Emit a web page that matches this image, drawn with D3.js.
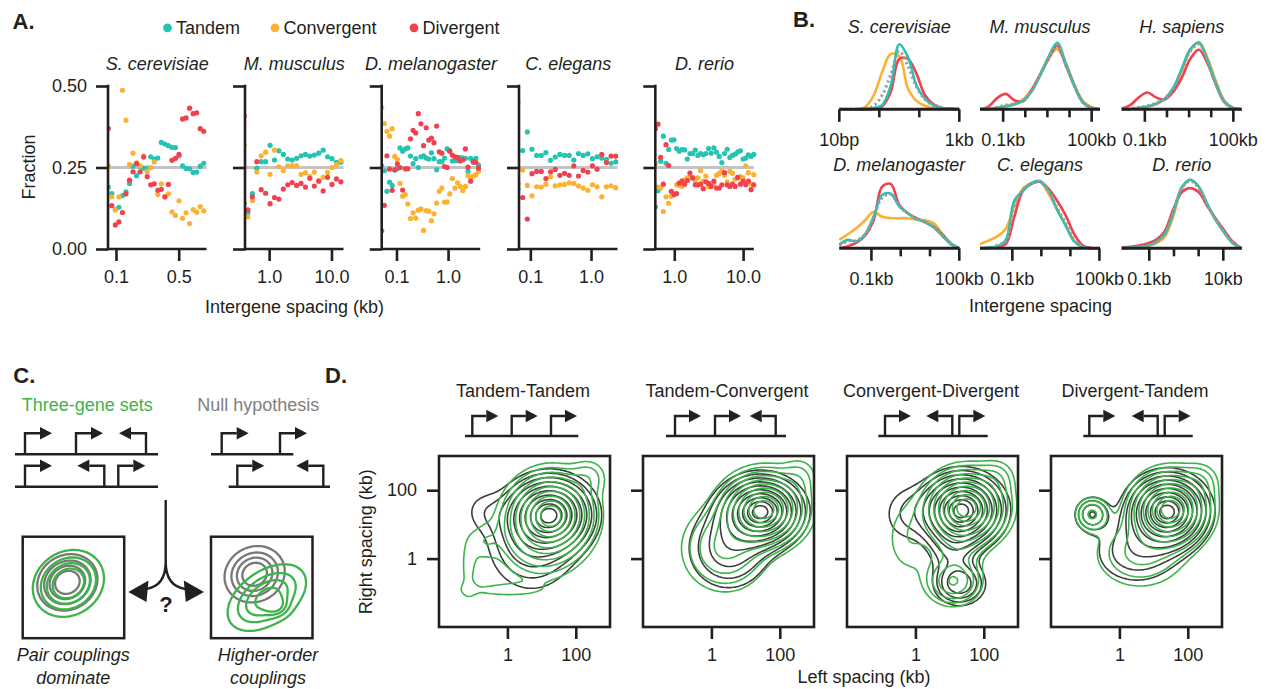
<!DOCTYPE html>
<html>
<head>
<meta charset="utf-8">
<script src="https://cdn.jsdelivr.net/npm/d3@7"></script>
<style>
  body { margin: 0; background: #fff; }
  svg text { font-family: "Liberation Sans", Arial, Helvetica, sans-serif; fill: #231f20; }
</style>
</head>
<body>
<svg id="figure" width="1270" height="689"></svg>
<script>
// ------------------------------------------------------------------
// Panel A: fraction of each orientation per spacing bin (x in kb)
// ------------------------------------------------------------------
const orientations = ["Tandem", "Convergent", "Divergent"];
const orientColors = ["#25c4b2", "#fcb130", "#f2404e"];

const aSpecies = ["S. cerevisiae", "M. musculus", "D. melanogaster", "C. elegans", "D. rerio"];
const aDomains = [[0.0815, 1.02], [0.41, 15.6], [0.0517, 4.2], [0.065, 2.73], [0.53, 14.3]];
const aTickValues = [[0.1, 0.5], [1, 10], [0.1, 1], [0.1, 1], [1, 10]];
const aTickLabels = [["0.1", "0.5"], ["1.0", "10.0"], ["0.1", "1.0"], ["0.1", "1.0"], ["1.0", "10.0"]];
const aYTicks = [0, 0.25, 0.5];

const scerBins = [0.0821, 0.0899, 0.0984, 0.1078, 0.1180, 0.1292, 0.1415, 0.1549, 0.1696, 0.1857, 0.2034, 0.2227, 0.2438, 0.2670, 0.2923, 0.3201, 0.3505, 0.3838, 0.4202, 0.4601, 0.5038, 0.5517, 0.6040, 0.6614, 0.7242, 0.7930, 0.8683, 0.9507];
const scerTandem = [0.19, 0.170, 0.121, 0.128, 0.164, 0.175, 0.201, 0.254, 0.225, 0.253, 0.248, 0.248, 0.283, 0.276, 0.279, 0.327, 0.322, 0.317, 0.312, 0.311, 0.286, 0.255, 0.247, 0.246, 0.235, 0.236, 0.254, 0.263];
const scerConvergent = [0.255, 0.16, 0.12, 0.16, 0.487, 0.395, 0.26, 0.294, 0.264, 0.255, 0.286, 0.238, 0.25, 0.267, 0.167, 0.2, 0.16, 0.169, 0.114, 0.103, 0.148, 0.094, 0.111, 0.078, 0.121, 0.113, 0.13, 0.117];
const scerDivergent = [0.37, 0.133, 0.074, 0.083, 0.112, 0.169, 0.211, 0.237, 0.262, 0.237, 0.282, 0.222, 0.197, 0.2, 0.18, 0.183, 0.16, 0.198, 0.272, 0.278, 0.29, 0.399, 0.402, 0.432, 0.415, 0.418, 0.369, 0.361];

const mmusBins = [0.40, 0.457, 0.538, 0.634, 0.746, 0.879, 1.035, 1.219, 1.435, 1.690, 1.990, 2.344, 2.760, 3.250, 3.827, 4.507, 5.307, 6.250, 7.360, 8.667, 10.21, 12.02, 14.15];
const mmusTandem = [0.139, 0.112, 0.170, 0.248, 0.268, 0.268, 0.318, 0.273, 0.301, 0.290, 0.276, 0.273, 0.278, 0.286, 0.290, 0.285, 0.288, 0.294, 0.303, 0.283, 0.277, 0.266, 0.266];
const mmusConvergent = [0.319, 0.099, 0.148, 0.236, 0.286, 0.297, 0.229, 0.303, 0.252, 0.240, 0.255, 0.256, 0.255, 0.229, 0.234, 0.223, 0.236, 0.210, 0.220, 0.235, 0.250, 0.259, 0.271];
const mmusDivergent = [0.408, 0.120, 0.160, 0.268, 0.182, 0.171, 0.139, 0.158, 0.153, 0.184, 0.197, 0.204, 0.195, 0.201, 0.190, 0.217, 0.193, 0.208, 0.178, 0.220, 0.198, 0.215, 0.206];

const dmelBins = [0.0517, 0.0581, 0.0653, 0.0734, 0.0825, 0.0927, 0.1042, 0.1171, 0.1316, 0.1479, 0.1662, 0.1868, 0.2100, 0.2360, 0.2652, 0.2981, 0.3350, 0.3765, 0.4232, 0.4756, 0.5346, 0.6008, 0.6752, 0.7589, 0.8529, 0.9586, 1.077, 1.211, 1.361, 1.530, 1.719, 1.932, 2.172, 2.441, 2.743, 3.083, 3.465, 3.895];
const dmelTandem = [0.255, 0.24, 0.177, 0.205, 0.195, 0.242, 0.246, 0.31, 0.30, 0.307, 0.31, 0.285, 0.262, 0.277, 0.25, 0.283, 0.286, 0.279, 0.276, 0.295, 0.277, 0.243, 0.268, 0.268, 0.279, 0.307, 0.302, 0.27, 0.271, 0.271, 0.28, 0.279, 0.278, 0.238, 0.278, 0.266, 0.278, 0.257];
const dmelConvergent = [0.434, 0.385, 0.361, 0.346, 0.369, 0.284, 0.275, 0.201, 0.162, 0.167, 0.138, 0.093, 0.111, 0.095, 0.119, 0.123, 0.057, 0.118, 0.116, 0.087, 0.108, 0.141, 0.177, 0.187, 0.144, 0.144, 0.169, 0.216, 0.187, 0.203, 0.192, 0.179, 0.192, 0.225, 0.22, 0.224, 0.228, 0.238];
const dmelDivergent = [0.056, 0.134, 0.286, 0.245, 0.18, 0.243, 0.261, 0.25, 0.181, 0.246, 0.246, 0.338, 0.364, 0.356, 0.415, 0.384, 0.317, 0.372, 0.334, 0.34, 0.326, 0.377, 0.298, 0.294, 0.253, 0.25, 0.3, 0.288, 0.283, 0.28, 0.27, 0.274, 0.307, 0.251, 0.208, 0.268, 0.266, 0.248];

const celeBins = [0.0626, 0.0747, 0.0891, 0.1063, 0.1268, 0.1513, 0.1805, 0.2154, 0.2570, 0.3066, 0.3658, 0.4365, 0.5208, 0.6213, 0.7413, 0.8845, 1.055, 1.259, 1.502, 1.792, 2.138, 2.551];
const celeTandem = [0.184, 0.302, 0.359, 0.306, 0.287, 0.287, 0.296, 0.272, 0.282, 0.290, 0.287, 0.287, 0.273, 0.293, 0.287, 0.292, 0.277, 0.283, 0.279, 0.275, 0.263, 0.267];
const celeConvergent = [0.451, 0.242, 0.195, 0.163, 0.191, 0.19, 0.199, 0.222, 0.194, 0.197, 0.198, 0.203, 0.201, 0.193, 0.187, 0.18, 0.197, 0.191, 0.16, 0.191, 0.194, 0.188];
const celeDivergent = [0.2, 0.158, 0.092, 0.231, 0.238, 0.238, 0.216, 0.237, 0.244, 0.226, 0.232, 0.226, 0.255, 0.224, 0.241, 0.236, 0.255, 0.245, 0.29, 0.265, 0.285, 0.285];

const drerBins = [0.531, 0.580, 0.634, 0.693, 0.758, 0.828, 0.905, 0.990, 1.082, 1.182, 1.292, 1.412, 1.544, 1.688, 1.845, 2.016, 2.204, 2.409, 2.633, 2.878, 3.146, 3.438, 3.758, 4.108, 4.490, 4.907, 5.364, 5.862, 6.408, 7.004, 7.655, 8.367, 9.145, 9.996, 10.93, 11.94, 13.05, 14.27];
const drerTandem = [0.129, 0.179, 0.269, 0.346, 0.263, 0.305, 0.334, 0.335, 0.308, 0.30, 0.305, 0.304, 0.276, 0.293, 0.293, 0.303, 0.287, 0.293, 0.289, 0.293, 0.308, 0.294, 0.31, 0.297, 0.284, 0.265, 0.293, 0.306, 0.281, 0.287, 0.291, 0.298, 0.301, 0.276, 0.279, 0.289, 0.284, 0.29];
const drerConvergent = [0.262, 0.19, 0.187, 0.115, 0.16, 0.14, 0.162, 0.171, 0.197, 0.195, 0.192, 0.212, 0.218, 0.222, 0.22, 0.21, 0.218, 0.24, 0.208, 0.224, 0.191, 0.199, 0.2, 0.226, 0.232, 0.24, 0.226, 0.206, 0.238, 0.232, 0.214, 0.218, 0.222, 0.218, 0.255, 0.234, 0.199, 0.228];
const drerDivergent = [0.369, 0.383, 0.281, 0.199, 0.32, 0.256, 0.177, 0.167, 0.17, 0.202, 0.208, 0.199, 0.21, 0.233, 0.218, 0.197, 0.197, 0.199, 0.185, 0.206, 0.201, 0.192, 0.208, 0.187, 0.187, 0.197, 0.234, 0.197, 0.192, 0.199, 0.192, 0.22, 0.199, 0.208, 0.197, 0.208, 0.182, 0.197];

// ------------------------------------------------------------------
// Panel B: spacing densities, x in log10(kb), order Tandem/Conv/Div/all
// ------------------------------------------------------------------
const bSpecies = ["S. cerevisiae", "M. musculus", "H. sapiens", "D. melanogaster", "C. elegans", "D. rerio"];
const bDomains = [[-2, 0], [-1.785, 2.283], [-1.785, 2.283], [-2.097, 2.0], [-2.114, 2.02], [-1.746, 1.497]];
const bTicks = [[-2, -1.333, -0.667, 0], [-1, -0.25, 0.5, 1.25, 2], [-1, -0.25, 0.5, 1.25, 2], [-1, 0, 1, 2], [-1, 0, 1, 2], [-1, -0.333, 0.333, 1]];
const bTickLabels = [["10bp", "", "", "1kb"], ["0.1kb", "", "", "", "100kb"], ["0.1kb", "", "", "", "100kb"], ["0.1kb", "", "", "100kb"], ["0.1kb", "", "", "100kb"], ["0.1kb", "", "", "10kb"]];

const scerX = [-2, -1.857, -1.714, -1.571, -1.429, -1.286, -1.143, -1.0, -0.857, -0.714, -0.571, -0.429, -0.286, -0.143, 0];
const scerDensity = [
  [0, 0, 0, 0.005, 0.02, 0.06, 0.34, 0.93, 0.75, 0.34, 0.15, 0.06, 0.02, 0.005, 0],
  [0, 0, 0.005, 0.03, 0.195, 0.53, 0.79, 0.76, 0.3, 0.12, 0.05, 0.015, 0.005, 0, 0],
  [0, 0, 0, 0, 0.01, 0.04, 0.25, 0.72, 0.72, 0.51, 0.2, 0.07, 0.02, 0.01, 0.005],
  [0, 0, 0, 0.01, 0.05, 0.2, 0.5, 0.83, 0.62, 0.32, 0.14, 0.05, 0.015, 0.005, 0]
];
const mmusX = [-1.785, -1.494, -1.204, -0.913, -0.623, -0.332, -0.042, 0.249, 0.540, 0.830, 1.121, 1.411, 1.702, 1.992, 2.283];
const mmusDensity = [
  [0, 0.005, 0.02, 0.04, 0.07, 0.12, 0.25, 0.48, 0.75, 0.95, 0.66, 0.33, 0.1, 0.02, 0],
  [0, 0.005, 0.02, 0.05, 0.08, 0.14, 0.28, 0.5, 0.73, 0.86, 0.66, 0.36, 0.12, 0.03, 0],
  [0, 0.04, 0.16, 0.22, 0.13, 0.11, 0.27, 0.49, 0.72, 0.91, 0.63, 0.34, 0.1, 0.02, 0],
  [0, 0.005, 0.03, 0.06, 0.08, 0.12, 0.26, 0.49, 0.74, 0.92, 0.65, 0.34, 0.1, 0.02, 0]
];
const hsapX = [-1.785, -1.494, -1.204, -0.913, -0.623, -0.332, -0.042, 0.249, 0.540, 0.830, 1.121, 1.411, 1.702, 1.992, 2.283];
const hsapDensity = [
  [0, 0.005, 0.02, 0.04, 0.08, 0.15, 0.3, 0.58, 0.86, 0.95, 0.7, 0.36, 0.1, 0.02, 0],
  [0, 0.005, 0.02, 0.035, 0.07, 0.14, 0.28, 0.55, 0.84, 0.96, 0.74, 0.4, 0.12, 0.02, 0],
  [0.01, 0.06, 0.17, 0.24, 0.17, 0.14, 0.25, 0.45, 0.72, 0.85, 0.66, 0.35, 0.1, 0.02, 0],
  [0, 0.01, 0.03, 0.05, 0.09, 0.15, 0.3, 0.55, 0.83, 0.93, 0.7, 0.37, 0.1, 0.02, 0]
];
const dmelX = [-2.097, -1.804, -1.511, -1.219, -0.926, -0.634, -0.341, -0.048, 0.244, 0.537, 0.829, 1.122, 1.414, 1.707, 2.0];
const dmelDensity = [
  [0.05, 0.12, 0.1, 0.2, 0.45, 0.76, 0.78, 0.6, 0.5, 0.42, 0.38, 0.3, 0.18, 0.06, 0],
  [0.12, 0.2, 0.29, 0.4, 0.52, 0.45, 0.43, 0.43, 0.43, 0.41, 0.4, 0.36, 0.21, 0.07, 0],
  [0, 0.03, 0.08, 0.18, 0.4, 0.88, 0.92, 0.62, 0.5, 0.43, 0.37, 0.31, 0.2, 0.07, 0],
  [0.04, 0.1, 0.11, 0.2, 0.45, 0.72, 0.77, 0.6, 0.5, 0.42, 0.38, 0.31, 0.19, 0.07, 0]
];
const celeX = [-2.114, -1.819, -1.523, -1.228, -0.933, -0.637, -0.342, -0.047, 0.248, 0.544, 0.839, 1.134, 1.430, 1.725, 2.020];
const celeDensity = [
  [0, 0.01, 0.03, 0.12, 0.68, 0.82, 0.93, 0.96, 0.82, 0.55, 0.32, 0.1, 0.02, 0, 0],
  [0.06, 0.11, 0.17, 0.28, 0.6, 0.85, 0.93, 0.95, 0.78, 0.55, 0.33, 0.1, 0.02, 0, 0],
  [0, 0.005, 0.02, 0.06, 0.45, 0.82, 0.92, 0.95, 0.85, 0.68, 0.47, 0.2, 0.04, 0.005, 0],
  [0, 0.01, 0.04, 0.1, 0.6, 0.84, 0.93, 0.95, 0.82, 0.58, 0.36, 0.12, 0.03, 0, 0]
];
const drerX = [-1.746, -1.514, -1.283, -1.051, -0.820, -0.588, -0.356, -0.125, 0.107, 0.338, 0.570, 0.802, 1.033, 1.265, 1.497];
const drerDensity = [
  [0, 0.01, 0.02, 0.04, 0.09, 0.2, 0.5, 0.87, 0.98, 0.88, 0.63, 0.4, 0.22, 0.07, 0],
  [0, 0.005, 0.015, 0.03, 0.07, 0.16, 0.45, 0.85, 0.98, 0.88, 0.62, 0.4, 0.22, 0.07, 0],
  [0.01, 0.02, 0.04, 0.07, 0.12, 0.24, 0.55, 0.8, 0.86, 0.8, 0.6, 0.42, 0.25, 0.09, 0],
  [0, 0.01, 0.02, 0.04, 0.09, 0.19, 0.5, 0.86, 0.96, 0.86, 0.62, 0.4, 0.22, 0.07, 0]
];

// ------------------------------------------------------------------
// Panel D: 2D spacing densities as gaussian blobs
// each blob: [log10 left kb, log10 right kb, sd x, sd y, corr, height]
// ------------------------------------------------------------------
const dTitles = ["Tandem-Tandem", "Tandem-Convergent", "Convergent-Divergent", "Divergent-Tandem"];
const dGeneDirs = [[1, 1, 1], [1, 1, -1], [1, -1, 1], [1, -1, 1]];
const dTickValues = [0, 2];
const dTickLabels = ["1", "100"];
const dNullBlobs = [
  [[1.25, 1.3, 0.65, 0.57, 0, 1.0], [0.7, 0.4, 0.8, 0.85, 0, 0.22], [-0.7, 1.4, 0.45, 0.45, 0, 0.08]],
  [[1.45, 1.38, 0.62, 0.52, 0, 1.0], [0.5, 0.3, 0.75, 0.75, 0, 0.22]],
  [[1.35, 1.42, 0.62, 0.55, 0, 1.0], [1.3, -0.75, 0.42, 0.35, 0, 0.32], [1.1, 0.3, 0.45, 0.6, 0, 0.15], [-0.3, 1.3, 0.5, 0.6, 0, 0.1]],
  [[1.4, 1.38, 0.6, 0.55, 0, 1.0], [-0.8, 1.3, 0.3, 0.3, 0, 0.25], [0.5, 0.2, 0.85, 0.65, 0, 0.15]]
];
const dTripleBlobs = [
  [[1.3, 1.3, 0.62, 0.62, 0, 1.0], [0.9, 0.6, 0.75, 0.75, 0, 0.2], [2.4, 2.4, 0.35, 0.35, 0, 0.1], [-0.2, -0.92, 0.9, 0.16, 0, 0.07], [-1.15, -0.3, 0.18, 0.7, 0, 0.07], [-0.7, 0.5, 0.3, 0.4, 0, 0.07]],
  [[1.55, 1.45, 0.62, 0.55, 0, 1.0], [0.4, 0.3, 0.75, 0.75, 0, 0.22], [2.6, 2.4, 0.35, 0.4, 0, 0.08]],
  [[1.5, 1.5, 0.6, 0.55, 0, 1.0], [1.1, -0.7, 0.45, 0.38, 0, 0.28], [1.2, 0.3, 0.5, 0.6, 0, 0.12], [-0.2, 0.6, 0.5, 0.8, 0, 0.08], [2.4, 2.4, 0.35, 0.35, 0, 0.08]],
  [[1.5, 1.45, 0.58, 0.55, 0, 1.0], [-0.8, 1.3, 0.28, 0.28, 0, 0.22], [0.6, 0.15, 0.85, 0.65, 0, 0.15], [2.4, 2.3, 0.35, 0.35, 0, 0.08]]
];
// contour levels as fractions of each density's peak
const dNullLevels = [0.066, 0.108, 0.168, 0.248, 0.349, 0.469, 0.6, 0.732, 0.85, 0.941];
const dTripleLevels = [0.051, 0.085, 0.135, 0.205, 0.296, 0.407, 0.534, 0.667, 0.793, 0.899];

// Panel C schematic blobs, in unit box coordinates
const cPairNull = [[0.44, 0.55, 0.16, 0.15, 0.12, 1]];
const cPairTriple = [[0.45, 0.54, 0.17, 0.16, 0.15, 1]];
const cHigherNull = [[0.43, 0.63, 0.16, 0.15, 0.1, 1]];
const cHigherTriple = [[0.55, 0.4, 0.2, 0.17, 0.45, 1], [0.64, 0.32, 0.07, 0.06, 0, 0.55]];
const cNullLevels = [0.18, 0.36, 0.55, 0.75];
const cTripleLevels = [0.12, 0.28, 0.46, 0.66];

// ------------------------------------------------------------------
const INK = "#231f20";
const GREEN = "#3cb44a";
const svg = d3.select("#figure");
const defs = svg.append("defs");

function panelLabel(txt, x, y) {
    svg.append("text").attr("x", x).attr("y", y).text(txt)
        .attr("font-size", 22).attr("font-weight", "bold");
}

function promoter(g, x, y, dir, h, arm) {
    g.append("path")
        .attr("d", `M${x},${y}V${y - h}H${x + dir * arm}`)
        .attr("fill", "none").attr("stroke", INK).attr("stroke-width", 2.4);
    g.append("path")
        .attr("d", `M${x + dir * arm},${y - h - 6.2}L${x + dir * (arm + 12)},${y - h}L${x + dir * arm},${y - h + 6.2}Z`)
        .attr("fill", INK);
}

function blobGrid(blobs, lo, hi, n) {
    const step = (hi - lo) / n;
    const vals = new Array(n * n);
    for (let j = 0; j < n; j++) {
        for (let i = 0; i < n; i++) {
            const px = lo + (i + 0.5) * step, py = lo + (j + 0.5) * step;
            let s = 0;
            blobs.forEach(([cx, cy, sx, sy, r, w]) => {
                const dx = (px - cx) / sx, dy = (py - cy) / sy;
                s += w * Math.exp(-0.5 * (dx * dx - 2 * r * dx * dy + dy * dy) / (1 - r * r));
            });
            vals[i + j * n] = s;
        }
    }
    return vals;
}

function drawContours(g, blobs, levels, lo, hi, n, xs, ys, color, width) {
    const vals = blobGrid(blobs, lo, hi, n);
    const mx = d3.max(vals);
    const step = (hi - lo) / n;
    const proj = d3.geoTransform({
        point: function (x, y) { this.stream.point(xs(lo + x * step), ys(lo + y * step)); }
    });
    const path = d3.geoPath(proj);
    g.selectAll(null)
        .data(d3.contours().size([n, n]).thresholds(levels.map(l => l * mx))(vals))
        .join("path")
        .attr("d", path)
        .attr("fill", "none")
        .attr("stroke", color)
        .attr("stroke-width", width)
        .attr("stroke-linejoin", "round");
}

// ====================== Panel A ======================
panelLabel("A.", 12.5, 28.5);

const aBins = [scerBins, mmusBins, dmelBins, celeBins, drerBins];
const aSeries = [
    [scerTandem, scerConvergent, scerDivergent],
    [mmusTandem, mmusConvergent, mmusDivergent],
    [dmelTandem, dmelConvergent, dmelDivergent],
    [celeTandem, celeConvergent, celeDivergent],
    [drerTandem, drerConvergent, drerDivergent]
];
const aLeft = [108, 245, 381.7, 519, 655.3];
const aWidth = 98.5;
const aY = d3.scaleLinear().domain([0, 0.5]).range([249, 86]);

// legend
const legX = [167.5, 275, 414];
orientations.forEach((o, i) => {
    svg.append("circle").attr("cx", legX[i]).attr("cy", 27.8).attr("r", 4.4).attr("fill", orientColors[i]);
    svg.append("text").attr("x", legX[i] + 8.5).attr("y", 34).attr("font-size", 18).text(o);
});

aSpecies.forEach((sp, k) => {
    const x0 = aLeft[k];
    const x = d3.scaleLog().domain(aDomains[k]).range([x0, x0 + aWidth]);
    const g = svg.append("g");

    g.append("text").attr("x", x0 + aWidth / 2).attr("y", 69.5)
        .attr("text-anchor", "middle").attr("font-size", 18).attr("font-style", "italic").text(sp);

    g.append("line").attr("x1", x0).attr("x2", x0 + aWidth)
        .attr("y1", aY(0.25)).attr("y2", aY(0.25))
        .attr("stroke", "#c4c4c4").attr("stroke-width", 3);

    defs.append("clipPath").attr("id", "clipA" + k)
        .append("rect").attr("x", x0).attr("y", 70).attr("width", aWidth + 8).attr("height", 185);
    const dots = g.append("g").attr("clip-path", `url(#clipA${k})`);
    aSeries[k].forEach((vals, s) => {
        dots.selectAll(null).data(vals).join("circle")
            .attr("cx", (d, i) => x(aBins[k][i]))
            .attr("cy", d => aY(d))
            .attr("r", 2.6)
            .attr("fill", orientColors[s]);
    });

    // y axis
    const yAx = g.append("g").attr("transform", `translate(${x0},0)`)
        .call(d3.axisLeft(aY).tickValues(aYTicks).tickSize(12).tickPadding(9)
            .tickFormat(k === 0 ? d3.format(".2f") : () => ""));
    yAx.select(".domain").remove();
    yAx.selectAll("line").attr("stroke", INK).attr("stroke-width", 2.6);
    yAx.selectAll("text").attr("font-size", 18);
    g.append("line").attr("x1", x0).attr("x2", x0).attr("y1", aY(0.5) - 1.3).attr("y2", aY(0) + 1.3)
        .attr("stroke", INK).attr("stroke-width", 2.6);

    // x axis
    g.append("line").attr("x1", x0).attr("x2", x0 + aWidth).attr("y1", aY(0)).attr("y2", aY(0))
        .attr("stroke", INK).attr("stroke-width", 2.6);
    const xAx = g.append("g").attr("transform", `translate(0,${aY(0)})`)
        .call(d3.axisBottom(x).tickValues(aTickValues[k]).tickSize(12).tickPadding(9)
            .tickFormat((d, i) => aTickLabels[k][i]));
    xAx.select(".domain").remove();
    xAx.selectAll("line").attr("stroke", INK).attr("stroke-width", 2.6);
    xAx.selectAll("text").attr("font-size", 18);
});

svg.append("text").attr("transform", "translate(35,167) rotate(-90)")
    .attr("text-anchor", "middle").attr("font-size", 18).text("Fraction");
svg.append("text").attr("x", 294.5).attr("y", 313)
    .attr("text-anchor", "middle").attr("font-size", 18).text("Intergene spacing (kb)");

// ====================== Panel B ======================
panelLabel("B.", 793, 26.7);

const bX = [scerX, mmusX, hsapX, dmelX, celeX, drerX];
const bDensity = [scerDensity, mmusDensity, hsapDensity, dmelDensity, celeDensity, drerDensity];
const bLeft = [839.3, 980, 1121.7];
const bWidth = 120;
const bBase = [109.3, 248.3];
const bTitleY = [32.7, 171];
const drawOrder = [1, 2, 0, 3];

bSpecies.forEach((sp, k) => {
    const row = Math.floor(k / 3), col = k % 3;
    const x = d3.scaleLinear().domain(bDomains[k]).range([bLeft[col], bLeft[col] + bWidth]);
    const y = d3.scaleLinear().domain([0, 1]).range([bBase[row], bBase[row] - 70]);
    const g = svg.append("g");

    g.append("text").attr("x", bLeft[col] + bWidth / 2).attr("y", bTitleY[row])
        .attr("text-anchor", "middle").attr("font-size", 18).attr("font-style", "italic").text(sp);

    const line = d3.line().x((d, i) => x(bX[k][i])).y(d => y(d)).curve(d3.curveCatmullRom.alpha(0.5));
    drawOrder.forEach(s => {
        g.append("path").attr("d", line(bDensity[k][s]))
            .attr("fill", "none")
            .attr("stroke", s === 3 ? "#9b9b9b" : orientColors[s])
            .attr("stroke-width", s === 3 ? 3 : 2.6)
            .attr("stroke-dasharray", s === 3 ? "2.2,3" : null);
    });

    g.append("line").attr("x1", x.range()[0]).attr("x2", x.range()[1])
        .attr("y1", bBase[row]).attr("y2", bBase[row])
        .attr("stroke", INK).attr("stroke-width", 3);
    bTicks[k].forEach((t, i) => {
        const major = bTickLabels[k][i] !== "";
        g.append("line").attr("x1", x(t)).attr("x2", x(t))
            .attr("y1", bBase[row]).attr("y2", bBase[row] + (major ? 12.5 : 8))
            .attr("stroke", INK).attr("stroke-width", 2.6);
        if (major) {
            g.append("text").attr("x", x(t)).attr("y", bBase[row] + 37)
                .attr("text-anchor", "middle").attr("font-size", 18).text(bTickLabels[k][i]);
        }
    });
});
svg.append("text").attr("x", 1040.5).attr("y", 312)
    .attr("text-anchor", "middle").attr("font-size", 18).text("Intergene spacing");

// ====================== Panel C ======================
panelLabel("C.", 13.3, 383.3);
svg.append("text").attr("x", 21.7).attr("y", 411).attr("font-size", 18)
    .style("fill", GREEN).text("Three-gene sets");
svg.append("text").attr("x", 197.3).attr("y", 411).attr("font-size", 18)
    .style("fill", "#808080").text("Null hypothesis");

const cRows = [
    {y: 454.3, x1: 15, x2: 158, genes: [[25, 1], [76, 1], [146, -1]]},
    {y: 486.7, x1: 15, x2: 158, genes: [[25, 1], [104.3, -1], [118.3, 1]]},
    {y: 454.3, x1: 211, x2: 293.3, genes: [[221.7, 1], [280, 1]]},
    {y: 486.7, x1: 228.7, x2: 330, genes: [[237.3, 1], [323.3, -1]]}
];
const cg = svg.append("g");
cRows.forEach(r => {
    cg.append("line").attr("x1", r.x1).attr("x2", r.x2).attr("y1", r.y).attr("y2", r.y)
        .attr("stroke", INK).attr("stroke-width", 2.4);
    r.genes.forEach(([gx, dir]) => promoter(cg, gx, r.y, dir, 21, 15));
});

// branching arrow
cg.append("path").attr("d", "M165.7,500V562Q165.7,586 146,589M165.7,562Q165.7,586 185.4,589")
    .attr("fill", "none").attr("stroke", INK).attr("stroke-width", 2.4);
cg.append("path").attr("d", "M128.3,592L148.5,580.5L146.5,602Z").attr("fill", INK);
cg.append("path").attr("d", "M204,592L183.8,580.5L185.8,602Z").attr("fill", INK);
cg.append("text").attr("x", 166).attr("y", 611.5).attr("text-anchor", "middle")
    .attr("font-size", 22).attr("font-weight", "bold").text("?");

const cBoxes = [
    {x: 22.7, nullBlobs: cPairNull, tripleBlobs: cPairTriple, caption: ["Pair couplings", "dominate"], cx: 73.3},
    {x: 211, nullBlobs: cHigherNull, tripleBlobs: cHigherTriple, caption: ["Higher-order", "couplings"], cx: 268}
];
cBoxes.forEach((b, k) => {
    const xs = d3.scaleLinear().domain([0, 1]).range([b.x, b.x + 101.5]);
    const ys = d3.scaleLinear().domain([0, 1]).range([638.2, 536.7]);
    defs.append("clipPath").attr("id", "clipC" + k).append("rect")
        .attr("x", b.x).attr("y", 536.7).attr("width", 101.5).attr("height", 101.5);
    const pg = cg.append("g").attr("clip-path", `url(#clipC${k})`);
    drawContours(pg, b.nullBlobs, cNullLevels, -0.2, 1.2, 70, xs, ys, "#787878", 2.3);
    drawContours(pg, b.tripleBlobs, cTripleLevels, -0.2, 1.2, 70, xs, ys, GREEN, 2.3);
    cg.append("rect").attr("x", b.x).attr("y", 536.7).attr("width", 101.5).attr("height", 101.5)
        .attr("fill", "none").attr("stroke", INK).attr("stroke-width", 2.5);
    cg.append("text").attr("x", b.cx).attr("y", 661).attr("text-anchor", "middle")
        .attr("font-size", 18).attr("font-style", "italic").text(b.caption[0]);
    cg.append("text").attr("x", b.cx).attr("y", 684).attr("text-anchor", "middle")
        .attr("font-size", 18).attr("font-style", "italic").text(b.caption[1]);
});

// ====================== Panel D ======================
panelLabel("D.", 325, 383.3);

const dLeft = [439, 643, 847, 1051];
const dSize = 171;
const dTop = 456;
const dGenePos = [[472.3, 511.7, 551], [675, 715, 775.7], [885, 952.3, 959.3], [1089.3, 1157.7, 1164.7]];
const dGeneLine = [[465, 578.3], [666, 786], [878.3, 987.7], [1083.3, 1192.7]];

dTitles.forEach((title, k) => {
    const x0 = dLeft[k];
    const xs = d3.scaleLinear().domain([-2, 3]).range([x0, x0 + dSize]);
    const ys = d3.scaleLinear().domain([-2, 3]).range([dTop + dSize, dTop]);
    const g = svg.append("g");

    g.append("text").attr("x", x0 + dSize / 2 - 1.5).attr("y", 397)
        .attr("text-anchor", "middle").attr("font-size", 18).text(title);

    g.append("line").attr("x1", dGeneLine[k][0]).attr("x2", dGeneLine[k][1]).attr("y1", 436).attr("y2", 436)
        .attr("stroke", INK).attr("stroke-width", 2.4);
    dGenePos[k].forEach((gx, i) => promoter(g, gx, 436, dGeneDirs[k][i], 20, 14));

    defs.append("clipPath").attr("id", "clipD" + k).append("rect")
        .attr("x", x0).attr("y", dTop).attr("width", dSize).attr("height", dSize);
    const pg = g.append("g").attr("clip-path", `url(#clipD${k})`);
    drawContours(pg, dNullBlobs[k], dNullLevels, -2.6, 3.6, 100, xs, ys, "#3d3d3d", 1.6);
    drawContours(pg, dTripleBlobs[k], dTripleLevels, -2.6, 3.6, 100, xs, ys, GREEN, 1.6);

    g.append("rect").attr("x", x0).attr("y", dTop).attr("width", dSize).attr("height", dSize)
        .attr("fill", "none").attr("stroke", INK).attr("stroke-width", 2.6);

    const xAx = g.append("g").attr("transform", `translate(0,${dTop + dSize})`)
        .call(d3.axisBottom(xs).tickValues(dTickValues).tickSize(12).tickPadding(9)
            .tickFormat((d, i) => dTickLabels[i]));
    xAx.select(".domain").remove();
    xAx.selectAll("line").attr("stroke", INK).attr("stroke-width", 2.6);
    xAx.selectAll("text").attr("font-size", 18);

    const yAx = g.append("g").attr("transform", `translate(${x0},0)`)
        .call(d3.axisLeft(ys).tickValues(dTickValues).tickSize(12).tickPadding(10)
            .tickFormat((d, i) => k === 0 ? dTickLabels[i] : ""));
    yAx.select(".domain").remove();
    yAx.selectAll("line").attr("stroke", INK).attr("stroke-width", 2.6);
    yAx.selectAll("text").attr("font-size", 18);
});

svg.append("text").attr("transform", "translate(372,541.7) rotate(-90)")
    .attr("text-anchor", "middle").attr("font-size", 18).text("Right spacing (kb)");
svg.append("text").attr("x", 864).attr("y", 683)
    .attr("text-anchor", "middle").attr("font-size", 18).text("Left spacing (kb)");
</script>
</body>
</html>
